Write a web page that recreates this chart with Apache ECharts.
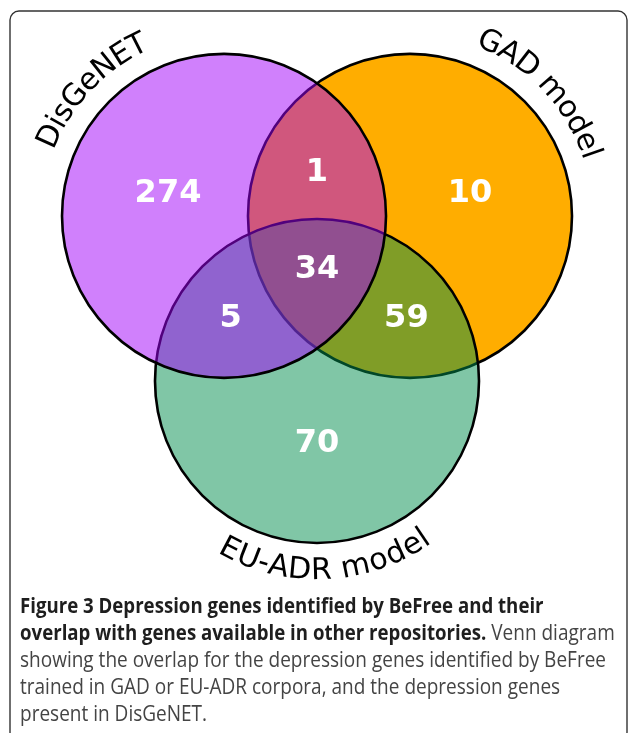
<!DOCTYPE html>
<html>
<head>
<meta charset="utf-8">
<script src="https://cdn.jsdelivr.net/npm/echarts@6/dist/echarts.min.js"></script>
<style>
  html, body { margin: 0; padding: 0; background: #fff; }
  #venn { width: 629px; height: 733px; }
</style>
</head>
<body>
<div id="venn"></div>
<script>
// sets of the diagram
var setNames = ['DisGeNET', 'GAD model', 'EU-ADR model'];
// region membership [DisGeNET, GAD, EU-ADR] and gene count of each region
var regionSets = [[1, 0, 0], [0, 1, 0], [1, 1, 0], [0, 0, 1], [1, 0, 1], [0, 1, 1], [1, 1, 1]];
var regionCounts = [274, 10, 1, 70, 5, 59, 34];

var captionLines = [
    '{b|Figure 3 Depression genes identified by BeFree and their}',
    '{b|overlap with genes available in other repositories.}{n| Venn diagram}',
    '{n|showing the overlap for the depression genes identified by BeFree}',
    '{n|trained in GAD or EU-ADR corpora, and the depression genes}',
    '{n|present in DisGeNET.}'
];

// unweighted layout (equal circles, radius 1)
var circleCenters = [[-0.574, 0.34], [0.574, 0.34], [0, -0.679]];
var circleRadius = 1;
var circleColors = ['rgba(161,1,249,0.5)', '#ffad00', 'rgba(1,141,77,0.5)'];
var drawOrder = [2, 0, 1]; // z of each set: GAD bottom, EU-ADR, DisGeNET on top
var labelAngles = [136.5, 43.3, -87.4];
var labelRadius = 1.175;
// small pixel nudges of the count labels away from the region centroid
var countNudge = [[0, 10], [4, 10], [0, 4], [0, 0], [2, -4], [1, -4], [0, -2]];

function inside(x, y, i) {
    var dx = x - circleCenters[i][0], dy = y - circleCenters[i][1];
    return dx * dx + dy * dy < circleRadius * circleRadius;
}

// centroid of each region by sampling
function regionCentroid(flags) {
    var sx = 0, sy = 0, n = 0;
    for (var x = -1.6; x < 1.6; x += 0.006) {
        for (var y = -1.7; y < 1.4; y += 0.006) {
            var ok = true;
            for (var i = 0; i < 3; i++) {
                if (inside(x, y, i) !== !!flags[i]) { ok = false; break; }
            }
            if (ok) { sx += x; sy += y; n++; }
        }
    }
    return [sx / n, sy / n];
}

var regionData = regionSets.map(function (f, k) {
    var c = regionCentroid(f);
    return [c[0], c[1], regionCounts[k], k];
});

var measureCtx = document.createElement('canvas').getContext('2d');
function textWidth(s, font) {
    measureCtx.font = font;
    return measureCtx.measureText(s).width;
}

var myChart = echarts.init(document.getElementById('venn'));

function renderCircle(params, api) {
    var i = api.value(0);
    var c = api.coord(circleCenters[i]);
    var r = api.size([circleRadius, 0])[0];
    return {
        type: 'circle',
        z2: drawOrder[i],
        shape: { cx: c[0], cy: c[1], r: r },
        style: { fill: circleColors[i], stroke: '#000', lineWidth: 2.6 }
    };
}

function renderSetLabel(params, api) {
    var i = api.value(0);
    var name = setNames[i];
    var c = api.coord(circleCenters[i]);
    var R = api.size([labelRadius, 0])[0];
    var font = '30px "DejaVu Sans"';
    var total = textWidth(name, font);
    var mid = labelAngles[i] * Math.PI / 180;
    var bottom = labelAngles[i] < 0;
    var children = [];
    for (var k = 0; k < name.length; k++) {
        if (name[k] === ' ') continue;
        var s = (textWidth(name.slice(0, k), font) + textWidth(name.slice(0, k + 1), font)) / 2 - total / 2;
        var th = bottom ? mid + s / R : mid - s / R;
        children.push({
            type: 'text',
            x: c[0] + R * Math.cos(th),
            y: c[1] - R * Math.sin(th),
            rotation: bottom ? th + Math.PI / 2 : th - Math.PI / 2,
            style: {
                text: name[k], fontSize: 30, fontFamily: 'DejaVu Sans',
                fill: '#000', align: 'center', verticalAlign: 'middle'
            }
        });
    }
    return { type: 'group', children: children };
}

function renderCount(params, api) {
    var p = api.coord([api.value(0), api.value(1)]);
    var nudge = countNudge[api.value(3)];
    return {
        type: 'text',
        z2: 20,
        x: p[0] + nudge[0], y: p[1] + nudge[1],
        style: {
            text: String(api.value(2)), fontSize: 32, fontWeight: 'bold', fontFamily: 'DejaVu Sans',
            fill: '#fff', align: 'center', verticalAlign: 'middle'
        }
    };
}

// caption squeezed to the width of the original typeface
var capFont = '21px "Open Sans"';
var capScale = 586 / textWidth('showing the overlap for the depression genes identified by BeFree', capFont);

var graphics = [{
    type: 'rect',
    shape: { x: 10, y: 11, width: 617, height: 730, r: 9 },
    style: { fill: 'none', stroke: '#333', lineWidth: 1.4 }
}];
captionLines.forEach(function (line, k) {
    graphics.push({
        type: 'text',
        x: 20, y: 607 + k * 27,
        scaleX: capScale,
        style: {
            text: line, verticalAlign: 'middle',
            rich: {
                b: { fontSize: 20.6, fontFamily: 'Open Sans', fontWeight: 'bold', fill: '#1e1e1e' },
                n: { fontSize: 21, fontFamily: 'Open Sans', fill: '#444' }
            }
        }
    });
});

option = {
    animation: false,
    grid: { left: 57.8, top: 28, width: 518.4, height: 518.4 },
    xAxis: { type: 'value', min: -1.6, max: 1.6, show: false },
    yAxis: { type: 'value', min: -1.7, max: 1.5, show: false },
    graphic: graphics,
    series: [
        {
            type: 'custom',
            clip: false,
            renderItem: renderCircle,
            data: setNames.map(function (n, i) { return [i]; })
        },
        {
            type: 'custom',
            clip: false,
            renderItem: renderSetLabel,
            data: setNames.map(function (n, i) { return [i]; })
        },
        {
            type: 'custom',
            clip: false,
            z: 3,
            renderItem: renderCount,
            data: regionData
        }
    ]
};

myChart.setOption(option);
</script>
</body>
</html>
